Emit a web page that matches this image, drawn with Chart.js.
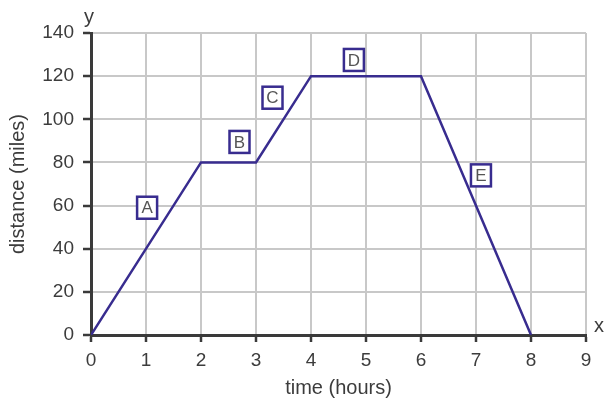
<!DOCTYPE html>
<html>
<head>
<meta charset="utf-8">
<script src="https://cdn.jsdelivr.net/npm/chart.js@4.4.1/dist/chart.umd.min.js"></script>
<style>
  html, body { margin: 0; padding: 0; background: #fff; }
  #wrap { width: 605px; height: 398px; }
</style>
</head>
<body>
<div id="wrap"><canvas id="chart" width="605" height="398"></canvas></div>
<script>
// --- data ---
const timeHours = [0, 2, 3, 4, 6, 8];
const distanceMiles = [0, 80, 80, 120, 120, 0];

// segment labels A-E, placed at (time, distance)
const segLabels = ['A', 'B', 'C', 'D', 'E'];
const segLabelX = [1.02, 2.7, 3.3, 4.78, 7.09];
const segLabelY = [59, 89.5, 110, 127.5, 74];

const xTicks = [0, 1, 2, 3, 4, 5, 6, 7, 8, 9];
const yTicks = [0, 20, 40, 60, 80, 100, 120, 140];

const lineColor = '#382c8f';
const axisColor = '#3a3a3a';
const textColor = '#3c3c3c';
const fontFam = '"Liberation Sans", Arial, sans-serif';

// boxes + the little "x" / "y" axis names
const extras = {
  id: 'extras',
  afterDatasetsDraw(chart) {
    const { ctx, scales: { x, y } } = chart;
    ctx.save();
    ctx.font = '17px ' + fontFam;
    ctx.textAlign = 'center';
    ctx.textBaseline = 'middle';
    segLabels.forEach((lbl, i) => {
      const px = x.getPixelForValue(segLabelX[i]);
      const py = y.getPixelForValue(segLabelY[i]);
      ctx.fillStyle = '#fff';
      ctx.fillRect(px - 10, py - 11, 20, 22);
      ctx.strokeStyle = lineColor;
      ctx.lineWidth = 2.5;
      ctx.strokeRect(px - 10, py - 11, 20, 22);
      ctx.fillStyle = '#555';
      ctx.fillText(lbl, px, py + 1);
    });
    ctx.font = '20px ' + fontFam;
    ctx.fillStyle = textColor;
    ctx.fillText('y', x.left - 2, y.top - 16);
    ctx.fillText('x', x.right + 13, y.bottom - 9);
    ctx.restore();
  }
};

new Chart(document.getElementById('chart'), {
  type: 'scatter',
  data: {
    datasets: [{
      data: timeHours.map((t, i) => ({ x: t, y: distanceMiles[i] })),
      showLine: true,
      borderColor: lineColor,
      borderWidth: 2.5,
      pointRadius: 0,
      tension: 0
    }]
  },
  options: {
    responsive: false,
    animation: false,
    layout: { padding: { top: 33, right: 19, left: 0, bottom: 0 } },
    plugins: { legend: { display: false }, tooltip: { enabled: false } },
    scales: {
      x: {
        type: 'linear', min: 0, max: 9,
        afterBuildTicks: s => { s.ticks = xTicks.map(v => ({ value: v })); },
        afterFit: s => { s.height = 63; },
        grid: { color: '#c8c8c8', lineWidth: 2, tickColor: axisColor, tickLength: 7, tickWidth: 2.5 },
        border: { color: axisColor, width: 3 },
        ticks: { color: textColor, font: { family: fontFam, size: 19 }, padding: 7 },
        title: { display: true, text: 'time (hours)', color: textColor, font: { family: fontFam, size: 20, lineHeight: 1 }, padding: { top: 0, bottom: 0 } }
      },
      y: {
        type: 'linear', min: 0, max: 140,
        afterBuildTicks: s => { s.ticks = yTicks.map(v => ({ value: v })); },
        afterFit: s => { s.width = 91; },
        grid: { color: '#c8c8c8', lineWidth: 2, tickColor: axisColor, tickLength: 8, tickWidth: 2.5 },
        border: { color: axisColor, width: 3 },
        ticks: { color: textColor, font: { family: fontFam, size: 19 }, padding: 9 },
        title: { display: true, text: 'distance (miles)', color: textColor, font: { family: fontFam, size: 20, lineHeight: 1 }, padding: { top: 8, bottom: 0 } }
      }
    }
  },
  plugins: [extras]
});
</script>
</body>
</html>
